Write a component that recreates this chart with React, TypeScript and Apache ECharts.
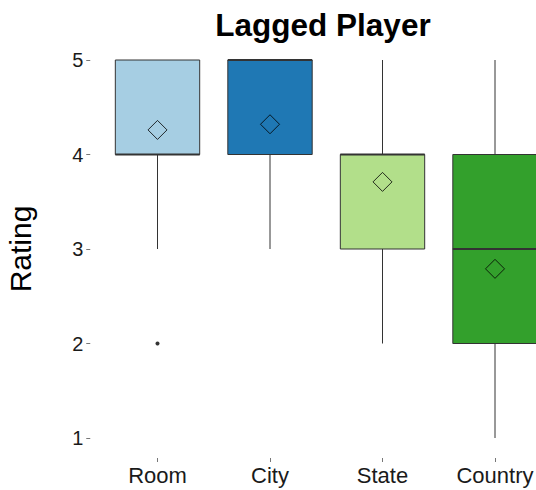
import React, { useEffect, useRef } from "react";
import * as echarts from "echarts";

const categories = ["Room", "City", "State", "Country"];
const whiskerLow = [3, 3, 2, 1];
const q1 = [4, 4, 3, 2];
const medians = [4, 5, 4, 3];
const q3 = [5, 5, 4, 4];
const whiskerHigh = [5, 5, 5, 5];
const means = [4.26, 4.32, 3.71, 2.79];
const outliers: [number, number][] = [[0, 2]];
const fills = ["#A6CEE3", "#1F78B4", "#B2DF8A", "#33A02C"];
const yTicks = [1, 2, 3, 4, 5];

export default function App() {
  const ref = useRef<HTMLDivElement>(null);
  useEffect(() => {
    if (!ref.current) return;
    const chart = echarts.init(ref.current, null, { renderer: "svg" });
    const boxData = categories.map((_, i) => [i, whiskerLow[i], q1[i], medians[i], q3[i], whiskerHigh[i]]);
    chart.setOption({
      animation: false,
      backgroundColor: "#fff",
      textStyle: { fontFamily: "Liberation Sans, Arial, sans-serif" },
      title: {
        text: "Lagged Player",
        left: 318,
        textAlign: "center",
        top: 4,
        textStyle: { fontSize: 31.5, fontWeight: "bold", color: "#000", fontFamily: "Liberation Sans, Arial, sans-serif" },
      },
      grid: { left: 101.25, width: 450, top: 60, bottom: 52, containLabel: false, outerBoundsMode: "none" },
      xAxis: {
        type: "category",
        data: categories,
        offset: 20,
        axisLine: { show: false },
        axisTick: { show: true, length: 4, alignWithLabel: true, lineStyle: { color: "#777", width: 1 } },
        axisLabel: { fontSize: 22, color: "#1a1a1a", margin: 6 },
        splitLine: { show: false },
      },
      yAxis: {
        type: "value",
        min: yTicks[0],
        max: yTicks[yTicks.length - 1],
        interval: 1,
        offset: 11,
        name: "Rating",
        nameLocation: "middle",
        nameGap: 55,
        nameTextStyle: { fontSize: 30, color: "#000" },
        axisLine: { show: false },
        axisTick: { show: true, length: 4, lineStyle: { color: "#777", width: 1 } },
        axisLabel: { fontSize: 20, color: "#1a1a1a", margin: 7 },
        splitLine: { show: false },
      },
      series: [
        {
          type: "custom",
          data: boxData,
          encode: { x: 0, y: [1, 2, 3, 4, 5] },
          renderItem: (params: any, api: any) => {
            const idx = api.value(0);
            const lo = api.coord([idx, api.value(1)]);
            const b1 = api.coord([idx, api.value(2)]);
            const md = api.coord([idx, api.value(3)]);
            const b3 = api.coord([idx, api.value(4)]);
            const hi = api.coord([idx, api.value(5)]);
            const w = api.size([1, 0])[0] * 0.75;
            const x0 = lo[0] - w / 2;
            const stroke = "#333";
            return {
              type: "group",
              children: [
                { type: "line", shape: { x1: lo[0], y1: hi[1], x2: lo[0], y2: b3[1] }, style: { stroke, lineWidth: 1 } },
                { type: "line", shape: { x1: lo[0], y1: b1[1], x2: lo[0], y2: lo[1] }, style: { stroke, lineWidth: 1 } },
                {
                  type: "rect",
                  shape: { x: x0, y: b3[1], width: w, height: b1[1] - b3[1] },
                  style: { fill: fills[params.dataIndex], stroke, lineWidth: 1 },
                },
                { type: "line", shape: { x1: x0, y1: md[1], x2: x0 + w, y2: md[1] }, style: { stroke, lineWidth: 2.2 } },
              ],
            };
          },
          z: 2,
        },
        {
          type: "scatter",
          data: outliers,
          symbol: "circle",
          symbolSize: 4,
          itemStyle: { color: "#000" },
          z: 3,
        },
        {
          type: "scatter",
          data: means.map((m, i) => [i, m]),
          symbol: "diamond",
          symbolSize: 19,
          itemStyle: { color: "rgba(0,0,0,0)", borderColor: "#000", borderWidth: 1 },
          z: 4,
        },
      ],
    });
    return () => chart.dispose();
  }, []);
  return <div ref={ref} style={{ width: 536, height: 490, position: "absolute", left: 0, top: 0 }} />;
}
